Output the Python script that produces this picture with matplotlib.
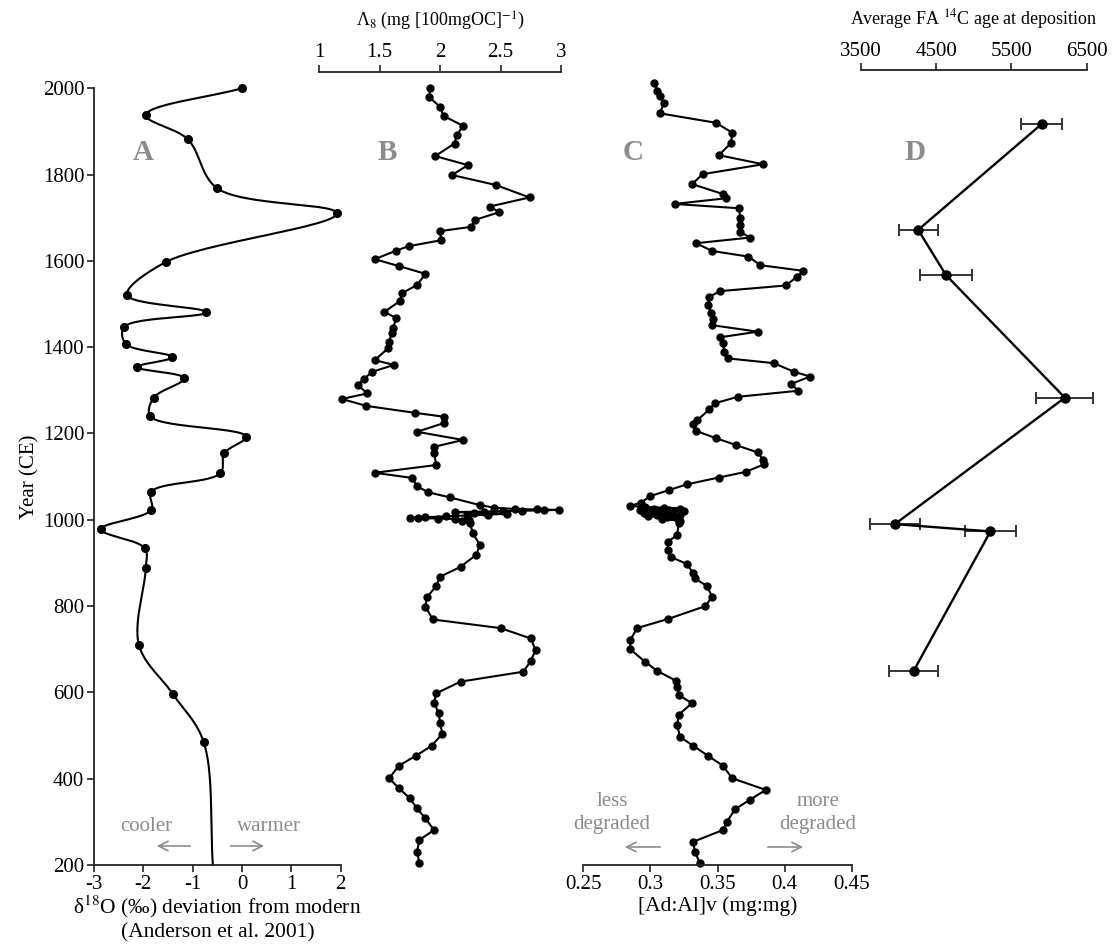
import matplotlib
matplotlib.use('Agg')
import matplotlib.pyplot as plt
import numpy as np

plt.rcParams['font.family'] = ['Liberation Serif', 'DejaVu Serif']
plt.rcParams['mathtext.fontset'] = 'stix'
plt.rcParams['axes.unicode_minus'] = False

# ---- data ----
# A: d18O deviation from modern (Anderson et al. 2001)
years_a = [2000, 1938, 1882, 1768, 1710, 1597, 1521, 1481, 1447, 1408, 1377, 1354,
           1328, 1283, 1240, 1193, 1154, 1108, 1065, 1023, 978, 934, 888, 710, 596,
           486, 200]
d18o = [0.0, -1.95, -1.10, -0.50, 1.92, -1.55, -2.33, -0.72, -2.39, -2.36, -1.41, -2.13,
        -1.17, -1.79, -1.86, 0.08, -0.36, -0.44, -1.84, -1.84, -2.86, -1.97, -1.95, -2.09,
        -1.40, -0.78, -0.59]

# B: Lambda8
years_b = [2000, 1980, 1957, 1936, 1913, 1892, 1872, 1843, 1822, 1799, 1776, 1747, 1726,
           1713, 1695, 1679, 1669, 1648, 1634, 1624, 1604, 1588, 1570, 1544, 1526, 1507,
           1482, 1467, 1444, 1432, 1413, 1397, 1370, 1359, 1343, 1326, 1312, 1293, 1280,
           1264, 1248, 1239, 1224, 1204, 1185, 1169, 1154, 1127, 1109, 1097, 1078, 1064,
           1052, 1034, 1028, 1025, 1024, 1023, 1022, 1021, 1020, 1019, 1018, 1016, 1014,
           1012, 1010, 1008, 1006, 1005, 1004, 1003, 1002, 1000, 998, 992, 969, 942, 919,
           891, 868, 847, 820, 799, 769, 749, 725, 698, 673, 648, 625, 598, 575, 552, 528,
           504, 476, 453, 430, 401, 378, 355, 331, 308, 281, 258, 231, 204]
lambda8 = [1.92, 1.91, 2.00, 2.03, 2.19, 2.14, 2.12, 1.96, 2.23, 2.10, 2.46, 2.74, 2.41,
           2.49, 2.29, 2.26, 2.00, 2.01, 1.74, 1.64, 1.46, 1.66, 1.88, 1.81, 1.69, 1.67,
           1.54, 1.64, 1.61, 1.60, 1.58, 1.57, 1.46, 1.62, 1.44, 1.37, 1.32, 1.40, 1.19,
           1.39, 1.79, 2.03, 2.03, 1.81, 2.19, 1.95, 1.95, 1.97, 1.46, 1.77, 1.81, 1.90,
           2.08, 2.33, 2.45, 2.62, 2.80, 2.98, 2.86, 2.68, 2.52, 2.36, 2.12, 2.28, 2.55,
           2.40, 2.22, 2.05, 1.88, 1.75, 1.82, 1.98, 2.12, 2.24, 2.18, 2.25, 2.27, 2.33, 2.30,
           2.17, 2.00, 1.97, 1.89, 1.88, 1.94, 2.50, 2.75, 2.79, 2.75, 2.69, 2.17, 1.97, 1.95,
           1.99, 2.00, 2.02, 1.93, 1.80, 1.66, 1.58, 1.66, 1.75, 1.81, 1.88, 1.95, 1.83,
           1.81, 1.83]

# C: [Ad:Al]v
years_c = [2012, 1994, 1982, 1965, 1942, 1920, 1897, 1873, 1845, 1824, 1801, 1778, 1755,
           1745, 1732, 1722, 1699, 1683, 1668, 1654, 1641, 1623, 1610, 1590, 1577, 1563,
           1543, 1530, 1517, 1498, 1479, 1465, 1451, 1436, 1423, 1410, 1390, 1374, 1363,
           1343, 1332, 1315, 1299, 1285, 1270, 1256, 1231, 1221, 1206, 1189, 1173, 1156,
           1139, 1129, 1111, 1098, 1082, 1069, 1055, 1040, 1032, 1030, 1028, 1026, 1025,
           1023, 1022, 1020, 1018, 1016, 1014, 1012, 1010, 1008, 1006, 1004, 1002, 998,
           992, 965, 949, 930, 914, 898, 876, 864, 847, 822, 800, 770, 749, 721, 700, 671,
           650, 627, 613, 594, 575, 548, 524, 497, 476, 453, 430, 401, 374, 351, 329, 300,
           281, 254, 231, 204]
adal = [0.303, 0.305, 0.307, 0.310, 0.307, 0.349, 0.361, 0.360, 0.351, 0.384, 0.339, 0.331,
        0.354, 0.356, 0.318, 0.366, 0.367, 0.367, 0.367, 0.374, 0.334, 0.346, 0.373, 0.382,
        0.414, 0.409, 0.401, 0.352, 0.344, 0.343, 0.345, 0.347, 0.346, 0.380, 0.352, 0.354,
        0.355, 0.358, 0.392, 0.407, 0.419, 0.405, 0.410, 0.365, 0.348, 0.344, 0.335, 0.332,
        0.334, 0.349, 0.364, 0.380, 0.384, 0.385, 0.371, 0.351, 0.327, 0.314, 0.300, 0.293,
        0.285, 0.296, 0.310, 0.322, 0.303, 0.292, 0.314, 0.325, 0.301, 0.295, 0.317, 0.322,
        0.305, 0.298, 0.312, 0.320, 0.309, 0.322, 0.321, 0.320, 0.313, 0.313, 0.315, 0.327,
        0.332, 0.333, 0.342, 0.346, 0.341, 0.313, 0.290, 0.285, 0.285, 0.296, 0.305, 0.319,
        0.320, 0.321, 0.331, 0.321, 0.320, 0.322, 0.332, 0.343, 0.354, 0.361, 0.386, 0.374,
        0.363, 0.357, 0.354, 0.332, 0.333, 0.337]

# D: average FA 14C age at deposition
years_d = [1917, 1672, 1567, 1283, 990, 973, 650]
fa_age = [5900, 4260, 4630, 6210, 3950, 5220, 4200]
fa_err = [275, 260, 350, 380, 330, 340, 325]

GRAY = '#8c8c8c'
AXC = '#222222'
W, H = 1115, 946


def catmull_rom(xs, ys, sx, sy, n=30, alpha=0.5):
    # centripetal Catmull-Rom curve through the data points (for drawing only)
    P = np.column_stack([np.asarray(xs) * sx, np.asarray(ys) * sy])
    P = np.vstack([2 * P[0] - P[1], P, 2 * P[-1] - P[-2]])
    out = []
    for i in range(len(P) - 3):
        p0, p1, p2, p3 = P[i:i + 4]
        t0 = 0.0
        t1 = t0 + np.linalg.norm(p1 - p0) ** alpha
        t2 = t1 + np.linalg.norm(p2 - p1) ** alpha
        t3 = t2 + np.linalg.norm(p3 - p2) ** alpha
        t = np.linspace(t1, t2, n)[:, None]
        A1 = (t1 - t) / (t1 - t0) * p0 + (t - t0) / (t1 - t0) * p1
        A2 = (t2 - t) / (t2 - t1) * p1 + (t - t1) / (t2 - t1) * p2
        A3 = (t3 - t) / (t3 - t2) * p2 + (t - t2) / (t3 - t2) * p3
        B1 = (t2 - t) / (t2 - t0) * A1 + (t - t0) / (t2 - t0) * A2
        B2 = (t3 - t) / (t3 - t1) * A2 + (t - t1) / (t3 - t1) * A3
        out.append((t2 - t) / (t2 - t1) * B1 + (t - t1) / (t2 - t1) * B2)
    C = np.vstack(out)
    return C[:, 0] / sx, C[:, 1] / sy


def rect(x0, x1):
    b = 1 - 865 / H
    t = 1 - 88.3 / H
    return [x0 / W, b, (x1 - x0) / W, t - b]


fig = plt.figure(figsize=(W / 100, H / 100), dpi=100)
axA = fig.add_axes(rect(94, 340.7))
axB = fig.add_axes(rect(319, 561), sharey=axA)
axC = fig.add_axes(rect(583.3, 851.7), sharey=axA)
axD = fig.add_axes(rect(861, 1086.7), sharey=axA)

for ax in (axA, axB, axC, axD):
    ax.set_facecolor('none')
    for s in ax.spines.values():
        s.set_visible(False)
        s.set_color(AXC)
        s.set_linewidth(1.3)
    ax.tick_params(direction='out', length=5, width=1.2, color=AXC, labelsize=15,
                   pad=2)

axA.set_ylim(200, 2000)

# ---- A ----
sx, sy = catmull_rom(d18o, years_a, 49.3, 86.3 / 200)
axA.plot(sx, sy, color='black', lw=1.5, clip_on=False)
axA.plot(d18o[:-1], years_a[:-1], 'o', color='black', ms=5.5, clip_on=False)
axA.set_xlim(-3, 2)
axA.spines['left'].set_visible(True)
axA.spines['bottom'].set_visible(True)
axA.set_yticks(range(200, 2001, 200))
axA.set_xticks([-3, -2, -1, 0, 1, 2])
axA.set_ylabel('Year (CE)', fontsize=15, labelpad=2)
axA.set_xlabel('δ$^{18}$O (‰) deviation from modern\n(Anderson et al. 2001)',
               fontsize=15.5, linespacing=1.2, labelpad=0)

# ---- B ----
axB.plot(lambda8, years_b, '-o', color='black', lw=1.5, ms=5, clip_on=False)
axB.set_xlim(1, 3)
axB.spines['top'].set_visible(True)
axB.spines['top'].set_position(('outward', 12))
axB.xaxis.set_ticks_position('top')
axB.xaxis.set_label_position('top')
axB.tick_params(axis='y', left=False, labelleft=False)
axB.set_xticks([1, 1.5, 2, 2.5, 3])
axB.set_xticklabels(['1', '1.5', '2', '2.5', '3'])
axB.set_xlabel('Λ$_8$ (mg [100mgOC]$^{-1}$)', fontsize=13, labelpad=12)

# ---- C ----
axC.plot(adal, years_c, '-o', color='black', lw=1.5, ms=5, clip_on=False)
axC.set_xlim(0.25, 0.45)
axC.spines['bottom'].set_visible(True)
axC.tick_params(axis='y', left=False, labelleft=False)
axC.set_xticks([0.25, 0.3, 0.35, 0.4, 0.45])
axC.set_xticklabels(['0.25', '0.3', '0.35', '0.4', '0.45'])
axC.set_xlabel('[Ad:Al]v (mg:mg)', fontsize=15.5, labelpad=2)

# ---- D ----
axD.errorbar(fa_age, years_d, xerr=fa_err, fmt='-o', color='black', lw=1.7, ms=6.5,
             ecolor='#333333', elinewidth=1.4, capsize=4.5, capthick=1.4, clip_on=False)
axD.set_xlim(3500, 6500)
axD.spines['top'].set_visible(True)
axD.spines['top'].set_position(('outward', 13))
axD.xaxis.set_ticks_position('top')
axD.xaxis.set_label_position('top')
axD.tick_params(axis='y', left=False, labelleft=False)
axD.set_xticks([3500, 4500, 5500, 6500])
axD.set_xlabel('Average FA $^{14}$C age at deposition', fontsize=13, labelpad=12)

# ---- panel letters ----
for letter, px in (('A', 143), ('B', 387), ('C', 633), ('D', 915)):
    fig.text(px / W, 1 - 152 / H, letter, color=GRAY, fontsize=21, fontweight='bold',
             ha='center', va='center')

# ---- direction annotations ----
def ftxt(x, y, s):
    fig.text(x / W, 1 - y / H, s, color=GRAY, fontsize=15, ha='center', va='center',
             linespacing=1.25)


def farrow(x0, x1, y):
    fig.add_artist(matplotlib.patches.FancyArrowPatch(
        (x0 / W, 1 - y / H), (x1 / W, 1 - y / H), transform=fig.transFigure,
        arrowstyle='->', mutation_scale=17, color=GRAY, lw=1.2))


ftxt(146, 826, 'cooler')
ftxt(269, 826, 'warmer')
farrow(193, 154, 846)
farrow(228, 267, 846)
ftxt(612, 813, 'less\ndegraded')
ftxt(818, 813, 'more\ndegraded')
farrow(663, 622, 847)
farrow(765, 806, 847)

fig.savefig('out.png', dpi=100)
